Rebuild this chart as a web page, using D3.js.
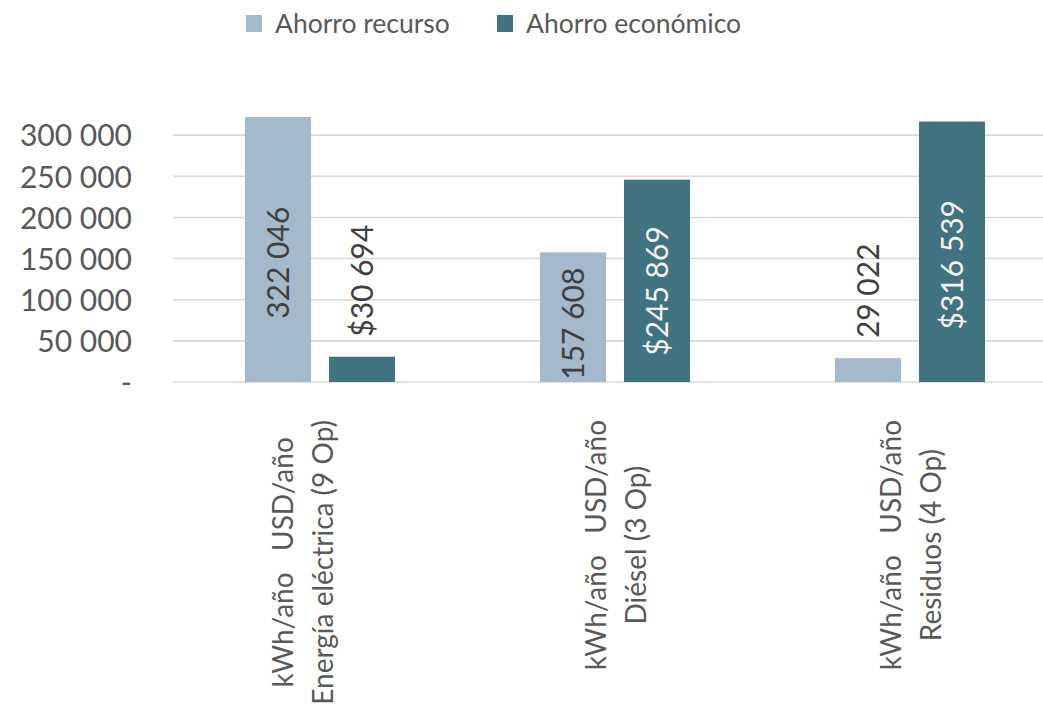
<!DOCTYPE html>
<html lang="es">
<head>
<meta charset="utf-8"/>
<style>
  body { margin: 0; background: #FFFFFF; }
  svg text { font-family: "Lato", "Open Sans", sans-serif; }
  .tick text { fill: #595959; font-size: 30px; }
  .legend text { fill: #595959; font-size: 26.5px; }
  .cat text { fill: #595959; font-size: 28px; white-space: pre; }
  .val { font-size: 30px; }
</style>
</head>
<body>
<svg id="chart" width="1043" height="719"></svg>

<script src="https://d3js.org/d3.v7.min.js"></script>
<script>
// data
let categories = ["Energía eléctrica (9 Op)", "Diésel (3 Op)", "Residuos (4 Op)"]
let unitLine = "kWh/año   USD/año"
let seriesNames = ["Ahorro recurso", "Ahorro económico"]
let recurso = [322046, 157608, 29022]
let economico = [30694, 245869, 316539]
let yTicks = [0, 50000, 100000, 150000, 200000, 250000, 300000]

let colors = ["#A5B9CD", "#40737F"]
let width = 1043, height = 719
let svg = d3.select("#chart")

// y scale: 0 sits at 382, each 50 000 is ~41px
let y = d3.scaleLinear().domain([0, 350000]).range([382, 94])
let x0 = d3.scaleBand().domain(categories).range([172.5, 1057.5])
let x1 = d3.scaleBand().domain(seriesNames).range([0, x0.bandwidth()])
           .paddingInner(0.214).paddingOuter(0.863)

let fmt = v => d3.format(",")(v).replace(/,/g, " ")

// gridlines
svg.append("g").selectAll("line")
  .data(yTicks).enter().append("line")
  .attr("x1", 173).attr("x2", width)
  .attr("y1", d => y(d)).attr("y2", d => y(d))
  .attr("stroke", "#D9D9D9").attr("stroke-width", 1.6)

// y axis labels
let yAxis = svg.append("g")
  .attr("transform", "translate(173,0)")
  .call(d3.axisLeft(y).tickValues(yTicks).tickSize(0).tickPadding(41)
        .tickFormat(d => d === 0 ? "-" : fmt(d)))
yAxis.select(".domain").remove()
yAxis.selectAll("text").attr("dy", "0.36em")

// bars
let rows = categories.map((c, i) => ({cat: c, vals: [
  {s: seriesNames[0], v: recurso[i], k: 0},
  {s: seriesNames[1], v: economico[i], k: 1}]}))

let groups = svg.append("g").selectAll("g")
  .data(rows).enter().append("g")
  .attr("transform", d => "translate(" + x0(d.cat) + ",0)")

groups.selectAll("rect")
  .data(d => d.vals).enter().append("rect")
  .attr("x", d => x1(d.s))
  .attr("width", x1.bandwidth())
  .attr("y", d => y(d.v))
  .attr("height", d => y(0) - y(d.v))
  .attr("fill", d => colors[d.k])

// value labels, rotated
groups.selectAll("text.val")
  .data(d => d.vals).enter().append("text")
  .attr("class", "val")
  .text(d => (d.k === 1 ? "$" : "") + fmt(d.v))
  .attr("text-anchor", "middle")
  .attr("dy", "0.36em")
  .each(function(d) {
    let len = this.getComputedTextLength()
    let barH = y(0) - y(d.v)
    let inside = barH > len
    let cy = inside ? y(d.v * 0.45) : y(d.v) - 20 - len / 2
    let cx = x1(d.s) + x1.bandwidth() / 2
    d3.select(this)
      .attr("transform", "translate(" + cx + "," + cy + ") rotate(-90)")
      .attr("fill", inside && d.k === 1 ? "#F2F2F2" : "#404040")
  })

// category labels, two rotated lines
let nudge = [-18, 0, 0]
let cat = svg.append("g").attr("class", "cat")
rows.forEach((r, i) => {
  let cx = x0(r.cat) + x0.bandwidth() / 2 + nudge[i]
  let lines = [unitLine, r.cat]
  let texts = lines.map(t => cat.append("text").text(t)
    .attr("text-anchor", "middle").attr("dy", "0.36em"))
  let maxLen = d3.max(texts, t => t.node().getComputedTextLength())
  let cy = 420 + maxLen / 2
  texts.forEach((t, j) => {
    t.attr("transform", "translate(" + (cx - 19 + j * 40) + "," + cy + ") rotate(-90)")
  })
})

// legend
let legend = svg.append("g").attr("class", "legend")
let lx = [246, 497]
seriesNames.forEach((s, i) => {
  legend.append("rect").attr("x", lx[i]).attr("y", 15)
    .attr("width", 16).attr("height", 17).attr("fill", colors[i])
  legend.append("text").attr("x", lx[i] + 29).attr("y", 33).text(s)
})
</script>
</body>
</html>
